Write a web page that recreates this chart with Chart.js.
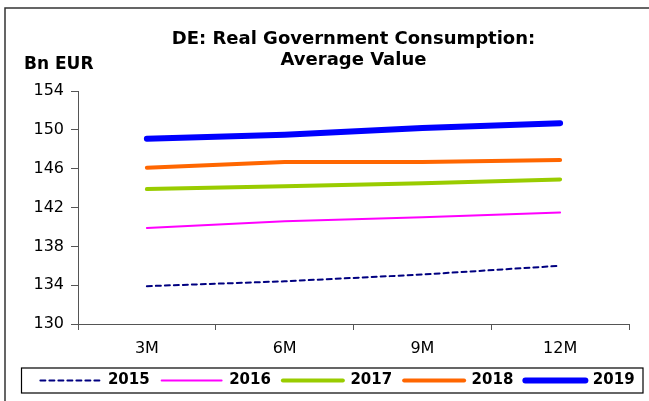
<!DOCTYPE html>
<html>
<head>
<meta charset="utf-8">
<script src="https://cdn.jsdelivr.net/npm/chart.js@4.4.1/dist/chart.umd.min.js"></script>
<style>
  html, body { margin: 0; padding: 0; background: #fff; }
</style>
</head>
<body>
<canvas id="myChart" width="649" height="401"></canvas>
<script>
// data
const horizons = ['3M', '6M', '9M', '12M'];
const years = ['2015', '2016', '2017', '2018', '2019'];
const v2015 = [133.9, 134.4, 135.1, 136.0];
const v2016 = [139.9, 140.6, 141.0, 141.5];
const v2017 = [143.9, 144.2, 144.5, 144.9];
const v2018 = [146.1, 146.7, 146.7, 146.9];
const v2019 = [149.1, 149.5, 150.2, 150.7];
const yTicks = [130, 134, 138, 142, 146, 150, 154];

const FONT = "'DejaVu Sans', Verdana, sans-serif";
const axisColor = '#555';

// frame, unit label and legend box
const decor = {
    id: 'decor',
    beforeDraw(chart) {
        const ctx = chart.ctx;
        ctx.save();
        ctx.fillStyle = '#fff';
        ctx.fillRect(0, 0, chart.width, chart.height);
        ctx.strokeStyle = '#333';
        ctx.lineWidth = 1.5;
        ctx.beginPath();
        ctx.moveTo(5, chart.height);
        ctx.lineTo(5, 8);
        ctx.lineTo(chart.width, 8);
        ctx.stroke();
        ctx.restore();
    },
    afterDraw(chart) {
        const ctx = chart.ctx;
        ctx.save();
        ctx.fillStyle = '#000';
        ctx.font = 'bold 17px ' + FONT;
        ctx.textBaseline = 'alphabetic';
        ctx.fillText('Bn EUR', 24, 69);
        const hb = chart.legend.legendHitBoxes;
        if (hb && hb.length) {
            const cy = hb[0].top + hb[0].height / 2;
            ctx.strokeStyle = '#000';
            ctx.lineWidth = 1.2;
            ctx.strokeRect(21.5, cy - 12.5, 621.5, 25);
        }
        ctx.restore();
    }
};

const ctx = document.getElementById('myChart').getContext('2d');

const seriesValues = [v2015, v2016, v2017, v2018, v2019];
const colors = ['#000080', '#FF00FF', '#99CC00', '#FF6600', '#0000FF'];
const widths = [2, 2, 4, 4, 6];
const dashes = [[5, 4], [], [], [], []];

const data = {
    labels: horizons,
    datasets: years.map((y, i) => ({
        label: y,
        data: seriesValues[i],
        borderColor: colors[i],
        backgroundColor: colors[i],
        borderWidth: widths[i],
        borderDash: dashes[i],
        borderCapStyle: 'round',
        pointRadius: 0,
        pointStyle: 'line',
        tension: 0,
        fill: false
    }))
};

window.myChart = new Chart(ctx, {
    type: 'line',
    data: data,
    plugins: [decor],
    options: {
        responsive: false,
        animation: false,
        layout: { padding: { left: 26, right: 0, top: 0, bottom: 3 } },
        scales: {
            x: {
                offset: true,
                grid: { offset: true, drawOnChartArea: false, drawTicks: true, tickLength: 6, color: axisColor },
                border: { display: true, color: axisColor, width: 1 },
                ticks: { color: '#000', font: { family: FONT, size: 16 }, padding: 9 },
                afterFit(scale) { scale.height = 37; }
            },
            y: {
                min: 130,
                max: 154,
                afterBuildTicks(scale) { scale.ticks = yTicks.map(v => ({ value: v })); },
                grid: { drawOnChartArea: false, drawTicks: true, tickLength: 7, color: axisColor },
                border: { display: true, color: axisColor, width: 1 },
                ticks: { color: '#000', font: { family: FONT, size: 16 }, padding: 7 },
                afterFit(scale) { scale.width = 52; }
            },
            // empty right margin so the plot ends where the reference does
            yr: {
                type: 'linear',
                position: 'right',
                display: true,
                grid: { display: false },
                border: { display: false },
                ticks: { display: false },
                afterFit(scale) { scale.width = 20; }
            }
        },
        plugins: {
            title: {
                display: true,
                fullSize: false,
                text: ['DE: Real Government Consumption:', 'Average Value'],
                color: '#000',
                font: { family: FONT, size: 18, weight: 'bold', lineHeight: 1.17 },
                padding: { top: 29, bottom: 20 }
            },
            legend: {
                display: true,
                position: 'bottom',
                labels: {
                    usePointStyle: true,
                    pointStyleWidth: 60,
                    color: '#000',
                    padding: 12,
                    font: { family: FONT, size: 15, weight: 'bold' },
                    generateLabels(chart) {
                        const items = Chart.defaults.plugins.legend.labels.generateLabels(chart);
                        items.forEach((it, i) => {
                            const ds = chart.data.datasets[i];
                            it.lineDash = ds.borderDash;
                            it.lineWidth = ds.borderWidth;
                            it.lineCap = 'round';
                            it.strokeStyle = ds.borderColor;
                        });
                        return items;
                    }
                }
            },
            tooltip: { enabled: false }
        }
    }
});
</script>
</body>
</html>
